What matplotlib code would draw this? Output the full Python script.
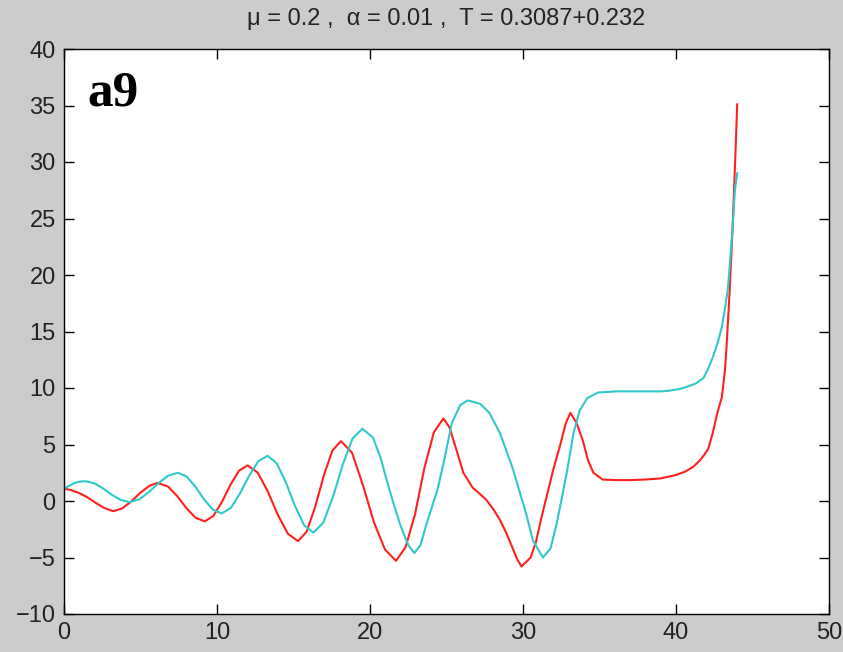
import matplotlib
matplotlib.use("Agg")
import matplotlib.pyplot as plt

# 讀圖估計的數值（紅線、青線）
red_x = [0, 0.5, 1.0, 1.5, 2.0, 2.6, 3.2, 3.8, 4.4, 5.0, 5.6, 6.1,
         6.8, 7.4, 8.0, 8.6, 9.2, 9.76, 10.32, 10.88, 11.44, 12.0,
         12.66, 13.32, 13.98, 14.64, 15.3, 15.86, 16.42, 16.98, 17.54, 18.1,
         18.82, 19.54, 20.26, 20.98, 21.7, 22.32, 22.94, 23.56, 24.18, 24.8,
         25.2, 25.7, 26.1, 26.7, 27.2, 27.6, 28.1, 28.5, 28.9, 29.3, 29.6, 29.9,
         30.5, 30.85, 31.2, 31.6, 32.0, 32.4, 32.8, 33.1,
         33.5, 33.9, 34.25, 34.6, 35.2, 36, 37, 38, 39,
         40, 40.6, 41.1, 41.5, 41.8, 42.1, 42.4, 42.7, 43.0, 43.2, 43.3,
         43.5, 43.7, 43.9, 44.0]
red_y = [1.1, 0.95, 0.7, 0.35, -0.1, -0.6, -0.9, -0.66, -0.04, 0.74, 1.36, 1.6,
         1.28, 0.43, -0.63, -1.48, -1.8, -1.33, -0.09, 1.44, 2.68, 3.15,
         2.51, 0.84, -1.24, -2.91, -3.55, -2.71, -0.5, 2.25, 4.46, 5.3,
         4.29, 1.4, -1.9, -4.29, -5.3, -4.1, -1.2, 2.95, 6.1, 7.3,
         6.5, 4.3, 2.5, 1.2, 0.6, 0.1, -0.8, -1.7, -2.8, -4.1, -5.1, -5.8,
         -5.0, -3.6, -1.5, 0.7, 2.9, 4.8, 6.9, 7.8,
         6.9, 5.4, 3.6, 2.5, 1.9, 1.85, 1.85, 1.9, 2.0,
         2.3, 2.6, 3.0, 3.5, 4.0, 4.6, 6.0, 7.8, 9.2, 11.6, 13.6,
         18.4, 24.2, 31.3, 35.1]

cyan_x = [0, 0.35, 0.7, 1.05, 1.4, 1.98, 2.56, 3.14, 3.72, 4.3,
          4.93, 5.56, 6.19, 6.82, 7.45, 8.02, 8.59, 9.16, 9.73, 10.3,
          10.9, 11.5, 12.1, 12.7, 13.3, 13.9, 14.5, 15.1, 15.7, 16.3,
          16.94, 17.58, 18.22, 18.86, 19.5, 20.2, 20.7, 21.1, 21.6, 22.0, 22.5, 22.9,
          23.3, 23.7, 24.4, 24.8, 25.35, 25.9, 26.4, 27.2, 27.8, 28.5, 29.3,
          30.2, 30.65, 31.3, 31.8, 32.2, 32.5, 32.9, 33.3, 33.7, 34.2, 34.9,
          35.5, 36, 37, 38, 39, 39.5, 40.2, 40.7, 41.3, 41.8, 42.1, 42.4,
          42.7, 43.0, 43.2, 43.4, 43.55, 43.7, 43.85, 44.0]
cyan_y = [1.1, 1.35, 1.6, 1.72, 1.75, 1.57, 1.11, 0.54, 0.08, -0.1,
          0.15, 0.8, 1.6, 2.25, 2.5, 2.16, 1.26, 0.14, -0.76, -1.1,
          -0.62, 0.66, 2.24, 3.52, 4.0, 3.35, 1.65, -0.45, -2.15, -2.8,
          -1.93, 0.37, 3.23, 5.53, 6.4, 5.6, 3.8, 1.8, -0.5, -2.2, -3.9, -4.6,
          -3.9, -2.0, 0.95, 3.3, 6.9, 8.5, 8.9, 8.6, 7.8, 6.0, 3.0,
          -1.1, -3.5, -5.0, -4.2, -2.0, 0.0, 2.8, 6.0, 8.0, 9.1, 9.6,
          9.65, 9.7, 9.7, 9.7, 9.7, 9.75, 9.9, 10.1, 10.4, 10.9, 11.7, 12.7,
          13.9, 15.4, 17.0, 18.9, 21.5, 24.2, 27.5, 29.0]

x_ticks = [0, 10, 20, 30, 40, 50]
y_ticks = [-10, -5, 0, 5, 10, 15, 20, 25, 30, 35, 40]
title = "μ = 0.2 ,  α = 0.01 ,  T = 0.3087+0.232"
panel_label = "a9"

plt.rcParams["font.family"] = ["Liberation Sans", "DejaVu Sans"]

fig = plt.figure(figsize=(8.43, 6.52), dpi=100, facecolor="#cccccc")
ax = fig.add_axes([64 / 843, 38 / 652, 765 / 843, 565 / 652])
ax.set_facecolor("white")

ax.plot(red_x, red_y, color="#ff2020", lw=1.5)
ax.plot(cyan_x, cyan_y, color="#30c8c8", lw=1.5)

ax.set_xlim(0, 50)
ax.set_ylim(-10, 40)
ax.set_xticks(x_ticks)
ax.set_yticks(y_ticks)
ax.tick_params(direction="in", length=7, width=1, top=True, right=True,
               labelsize=17, pad=6, colors="black", labelcolor="#222222")
for s in ax.spines.values():
    s.set_linewidth(1)
    s.set_color("black")

ax.set_title(title, fontsize=17, pad=17, color="#222222")
ax.text(1.5, 35.0, panel_label, fontsize=37, fontweight="bold",
        family=["Liberation Serif", "DejaVu Serif"], va="baseline", ha="left")

fig.savefig("out.png", dpi=100, facecolor=fig.get_facecolor())
